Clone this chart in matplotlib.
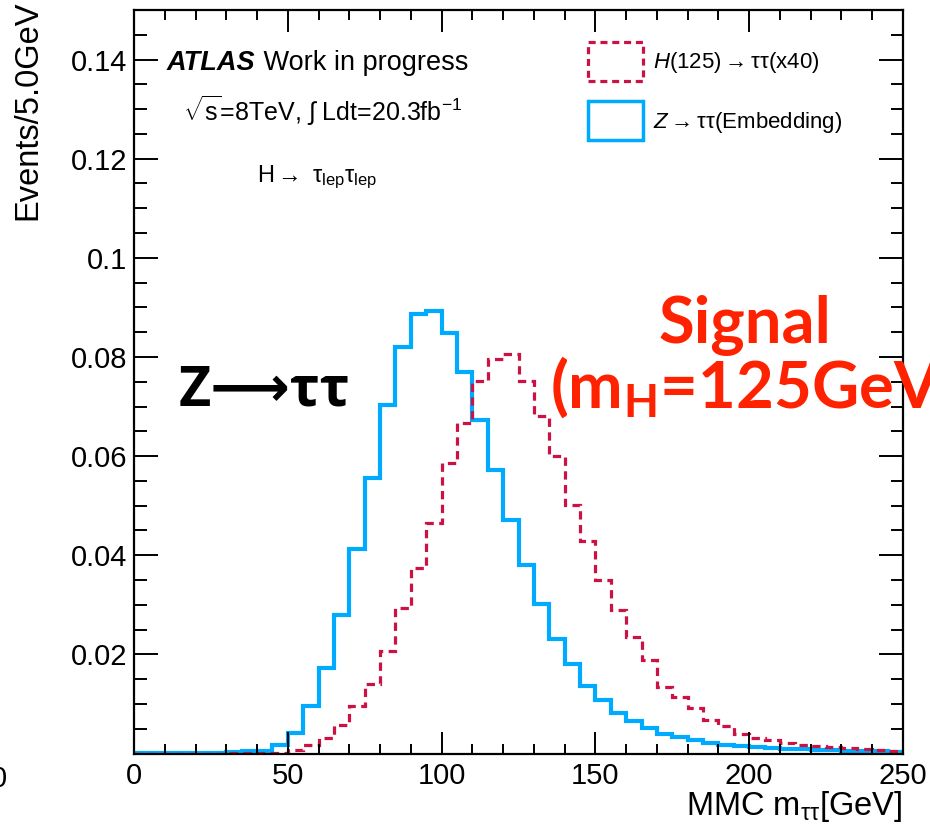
import numpy as np
import matplotlib
matplotlib.use("Agg")
import matplotlib.pyplot as plt
from matplotlib.patches import Patch
from matplotlib.ticker import MultipleLocator, FixedLocator, FuncFormatter

plt.rcParams['font.family'] = ['Liberation Sans', 'DejaVu Sans']
plt.rcParams['mathtext.fontset'] = 'custom'
plt.rcParams['mathtext.default'] = 'regular'
plt.rcParams['mathtext.rm'] = 'Liberation Sans'
plt.rcParams['mathtext.it'] = 'Liberation Sans:italic'
plt.rcParams['mathtext.bf'] = 'Lato:bold'

# MMC mass binning, 5 GeV bins from 0 to 250
bin_edges = np.arange(0, 255, 5)

# Z->tautau (embedding), normalised
ztautau = [0.0001, 0.0001, 0.0001, 0.0001, 0.0002, 0.0002, 0.0003, 0.0005, 0.0006, 0.0018,
           0.0042, 0.0095, 0.0172, 0.0279, 0.0413, 0.0556, 0.0704, 0.0821, 0.0887, 0.0892,
           0.0849, 0.0770, 0.0673, 0.0572, 0.0472, 0.0381, 0.0301, 0.0231, 0.0180, 0.0137,
           0.0107, 0.0082, 0.0065, 0.0052, 0.0040, 0.0034, 0.0027, 0.0022, 0.0018, 0.0015,
           0.0014, 0.0011, 0.0010, 0.0009, 0.0008, 0.0007, 0.0006, 0.0005, 0.0005, 0.0004]

# H(125)->tautau signal, scaled x40
htautau = [0.0, 0.0, 0.0, 0.0, 0.0, 0.0, 0.0001, 0.0001, 0.0001, 0.0002,
           0.0008, 0.0018, 0.0032, 0.0058, 0.0096, 0.0140, 0.0207, 0.0293, 0.0375, 0.0466,
           0.0586, 0.0667, 0.0752, 0.0795, 0.0806, 0.0752, 0.0681, 0.0600, 0.0502, 0.0429,
           0.0351, 0.0289, 0.0236, 0.0188, 0.0135, 0.0114, 0.0092, 0.0068, 0.0056, 0.0040,
           0.0032, 0.0027, 0.0022, 0.0017, 0.0015, 0.0013, 0.0012, 0.0009, 0.0007, 0.0006]

legend_labels = [r'$\mathit{H}$(125)$\rightarrow$ττ(x40)', r'$\mathit{Z}$$\rightarrow$ττ(Embedding)']
x_ticks = [0, 50, 100, 150, 200, 250]
y_ticks = [0.02, 0.04, 0.06, 0.08, 0.10, 0.12, 0.14]

blue = '#00AAFF'
red = '#CC1144'
orange = '#FF2200'

W, H = 930, 826
fig = plt.figure(figsize=(W / 100, H / 100), dpi=100)
ax = fig.add_axes([134 / W, 1 - 753.5 / H, 769 / W, 743.5 / H])

ax.stairs(ztautau, bin_edges, color=blue, lw=3.0, baseline=None)
ax.stairs(htautau, bin_edges, color=red, lw=2.3, linestyle=(0, (2.6, 1.7)), baseline=None)

ax.set_xlim(0, 250)
ax.set_ylim(0, 0.15)
ax.xaxis.set_major_locator(FixedLocator(x_ticks))
ax.xaxis.set_minor_locator(MultipleLocator(10))
ax.yaxis.set_major_locator(FixedLocator(y_ticks))
ax.yaxis.set_minor_locator(MultipleLocator(0.005))
ax.yaxis.set_major_formatter(FuncFormatter(lambda v, p: '%g' % v))
ax.tick_params(which='both', direction='in', top=True, right=True, width=1.4, labelsize=21)
ax.tick_params(axis='x', which='major', length=16, pad=6)
ax.tick_params(axis='x', which='minor', length=7.5)
ax.tick_params(axis='y', which='major', length=17, pad=5)
ax.tick_params(axis='y', which='minor', length=9)
for s in ax.spines.values():
    s.set_linewidth(1.6)

fig.text(28 / W, 1 - 1 / H, 'Events/5.0GeV', rotation=90, ha='center', va='top', fontsize=23.5)
fig.text(903 / W, 1 - 815 / H, r'MMC m$_{\tau\tau}$[GeV]', ha='right', va='baseline', fontsize=23.5)
fig.text(-1 / W, 1 - 765 / H, '0', ha='center', va='top', fontsize=21)

# ATLAS label block
t1 = fig.text(167 / W, 1 - 70 / H, 'ATLAS', fontsize=19.5, weight='bold', style='italic', va='baseline')
ax.annotate(' Work in progress', xy=(1, 0), xycoords=t1, va='bottom', fontsize=19.5)
fig.text(183 / W, 1 - 121 / H, r'$\sqrt{s}$=8TeV, $\int$ Ldt=20.3fb$^{-1}$', fontsize=18, va='baseline')
fig.text(257 / W, 1 - 182 / H, r'H$\rightarrow$ $\tau_{lep}\tau_{lep}$', fontsize=17, va='baseline')

handles = [Patch(facecolor='none', edgecolor=red, lw=2.3, linestyle=(0, (2.2, 1.5))),
           Patch(facecolor='none', edgecolor=blue, lw=2.5)]
ax.legend(handles, legend_labels, loc='upper left', bbox_to_anchor=((588 - 134) / 769, (753.5 - 42) / 743.5),
          frameon=False, fontsize=16, handlelength=2.48, handleheight=2.34, handletextpad=0.45,
          labelspacing=0.9, borderpad=0, borderaxespad=0)

# big annotations
fig.text(179 / W, 1 - 405 / H, 'Z⟶ττ', family=['Open Sans', 'DejaVu Sans'], weight='bold',
         fontsize=40, va='baseline', color='black')
fig.text(745 / W, 1 - 343 / H, 'Signal', family=['Lato', 'DejaVu Sans'], weight='bold',
         fontsize=47, ha='center', va='baseline', color=orange)
fig.text(550 / W, 1 - 408 / H, r'(m$_{\mathbf{H}}$=125GeV)', family=['Lato', 'DejaVu Sans'], weight='bold',
         fontsize=47, ha='left', va='baseline', color=orange)

fig.savefig('out.png', dpi=100)
